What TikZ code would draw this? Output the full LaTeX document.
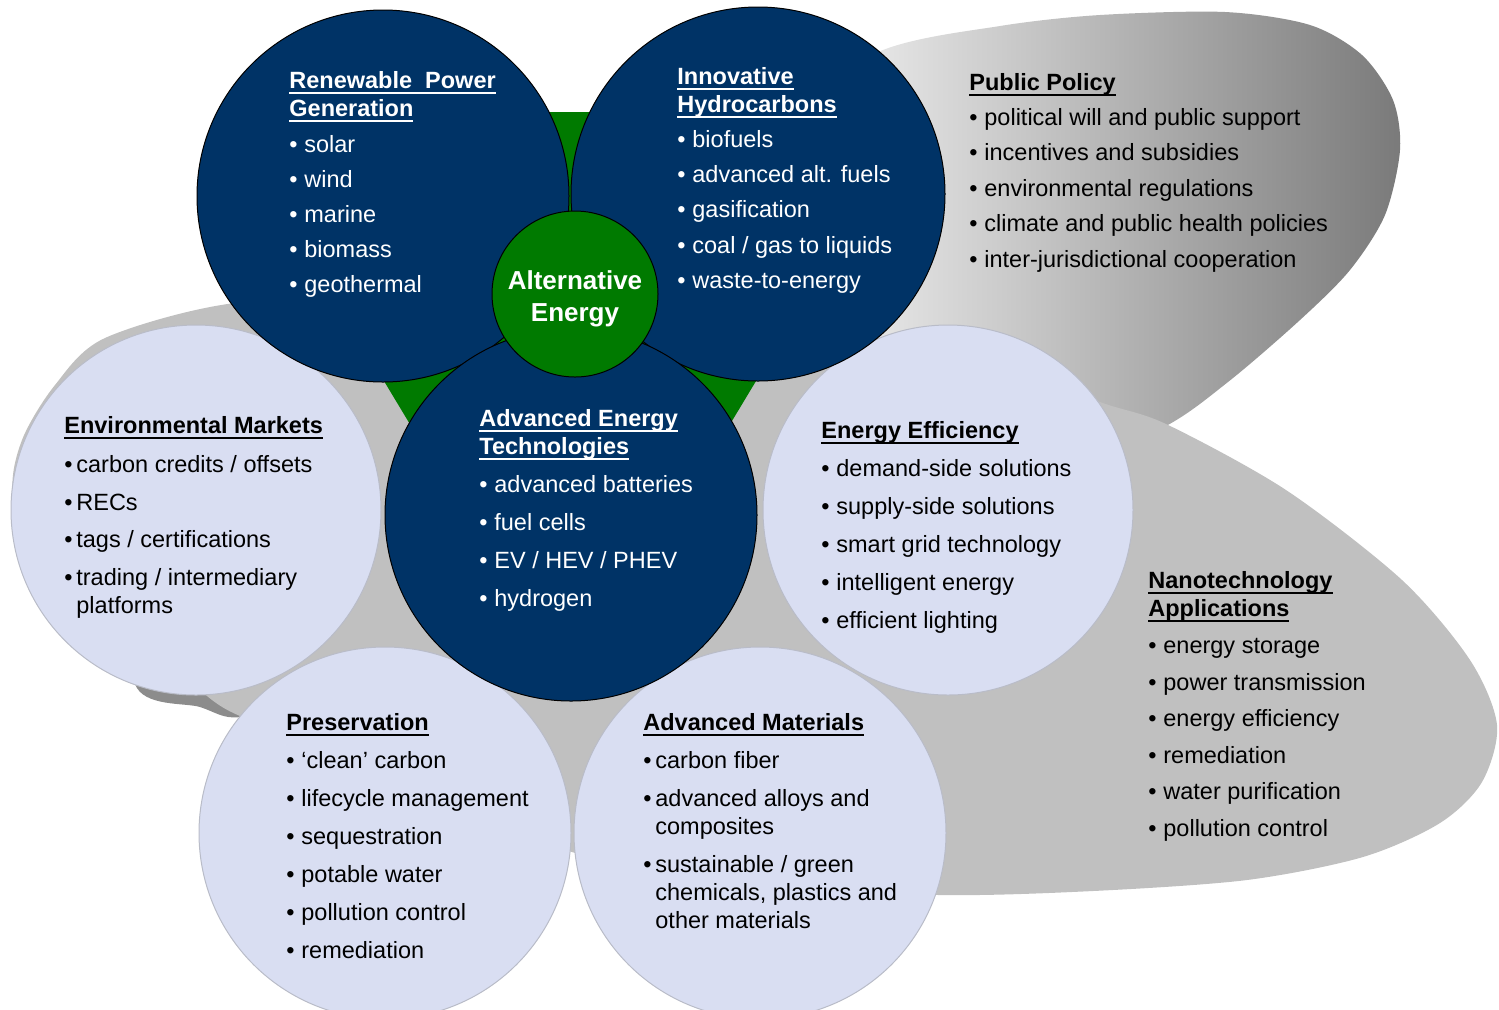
\documentclass[tikz,border=0pt]{standalone}
\usepackage{fontspec}
\setmainfont{Liberation Sans}

\definecolor{navy}{RGB}{0,51,102}
\definecolor{pale}{RGB}{217,222,242}
\definecolor{rim}{RGB}{185,188,200}
\definecolor{leaf}{RGB}{0,122,0}
\definecolor{greyA}{RGB}{192,192,192}
\definecolor{greyB}{RGB}{140,140,140}
\definecolor{greyC}{RGB}{122,122,122}

\newsavebox{\hdbox}
\newcommand{\bl}{\makebox[7.5pt][l]{\textbullet}}
\newcommand{\blt}{\makebox[6pt][l]{\textbullet}}
\newcommand{\indt}{\makebox[6pt]{}}
\newcommand{\hd}[1]{\rule{0pt}{10pt}\sbox{\hdbox}{\textbf{#1}}\usebox{\hdbox}\llap{\rule[-2.6pt]{\wd\hdbox}{0.9pt}}}

\begin{document}
\begin{tikzpicture}[x=0.5pt,y=-0.5pt,
        txt/.style={anchor=north west,align=left,inner sep=0pt,font=\fontsize{11.75}{14}\selectfont}]
        \useasboundingbox (0,0) rectangle (1499,1009);

        % Hintergrund
        \shade[left color=white,right color=greyC] plot[smooth cycle] coordinates {(760,120) (883,50) (1000,26) (1100,15) (1225,12) (1310,25) (1362,55) (1393,100) (1400,150) (1385,215) (1350,270) (1300,320) (1228,382) (1162,428) (1050,470) (900,420) (800,300)};
        \fill[greyB] plot[smooth cycle] coordinates {(135,684) (200,707) (240,717) (320,690) (300,520) (140,540)};
        \fill[greyA] plot[smooth cycle] coordinates {(22,440) (55,385) (105,338) (235,303) (420,300) (600,360) (770,378) (880,338) (1000,362) (1100,402) (1166,424) (1286,490) (1402,580) (1470,660) (1497,725) (1482,782) (1440,823) (1363,857) (1247,880) (1093,891) (939,895) (750,885) (572,852) (400,770) (240,716) (185,680) (100,640) (40,580) (13,495)};
        \fill[leaf] (222,112) -- (918,112) -- (570,690) -- cycle;

        % Kreise
        \begin{scope}[every node/.style={circle,line width=0.5pt,inner sep=0pt}]
            \node[draw=rim,fill=pale,minimum size=185pt] (EM) at (196,510) {};
            \node[draw=rim,fill=pale,minimum size=185pt] (EE) at (948,510) {};
            \node[draw=rim,fill=pale,minimum size=186pt] (PR) at (385,833) {};
            \node[draw=rim,fill=pale,minimum size=186pt] (AM) at (760,833) {};
            \node[draw=black,fill=navy,minimum size=186pt] (RPG) at (383,196) {};
            \node[draw=black,fill=navy,minimum size=187pt] (IH) at (758,194) {};
            \node[draw=black,fill=navy,minimum size=186pt] (AET) at (571,515) {};
            \node[draw=black,fill=leaf,minimum size=83pt] (AE) at (575,294) {};
        \end{scope}

        % Mitte
        \node[align=center,text=white,font=\fontsize{13}{16}\selectfont\bfseries] (AEtext) at (575,299) {Alternative\\Energy};

        % dunkle Kreise
        \node[txt,text=white] (RPGtext) at (289,68) {\hd{Renewable~~Power}\\\hd{Generation}\\[4pt]
            \bl solar\\[3.5pt] \bl wind\\[3.5pt] \bl marine\\[3.5pt] \bl biomass\\[3.5pt] \bl geothermal};
        \node[txt,text=white] (IHtext) at (677,64) {\hd{Innovative}\\\hd{Hydrocarbons}\\[3.5pt]
            \bl biofuels\\[3.6pt] \bl advanced alt. fuels\\[3.6pt] \bl gasification\\[3.6pt] \bl coal / gas to liquids\\[3.6pt] \bl waste-to-energy};
        \node[txt,text=white] (AETtext) at (479,406) {\hd{Advanced Energy}\\\hd{Technologies}\\[5pt]
            \bl advanced batteries\\[5pt] \bl fuel cells\\[5pt] \bl EV / HEV / PHEV\\[5pt] \bl hydrogen};

        % helle Kreise
        \node[txt] (EMtext) at (64,413) {\hd{Environmental Markets}\\[5.5pt]
            \blt carbon credits / offsets\\[4.85pt] \blt RECs\\[4.85pt] \blt tags / certifications\\[4.85pt] \blt trading / intermediary\\ \indt platforms};
        \node[txt] (EEtext) at (821,418) {\hd{Energy Efficiency}\\[5pt]
            \bl demand-side solutions\\[5pt] \bl supply-side solutions\\[5pt] \bl smart grid technology\\[5pt] \bl intelligent energy\\[5pt] \bl efficient lighting};
        \node[txt] (PRtext) at (286,710) {\hd{Preservation}\\[5pt]
            \bl `clean' carbon\\[5pt] \bl lifecycle management\\[5pt] \bl sequestration\\[5pt] \bl potable water\\[5pt] \bl pollution control\\[5pt] \bl remediation};
        \node[txt] (AMtext) at (643,710) {\hd{Advanced Materials}\\[5pt]
            \blt carbon fiber\\[5pt] \blt advanced alloys and\\ \indt composites\\[5pt] \blt sustainable / green\\ \indt chemicals, plastics and\\ \indt other materials};

        % graue Flaechen
        \node[txt] (PPtext) at (969,70) {\hd{Public Policy}\\[3.5pt]
            \bl political will and public support\\[3.75pt] \bl incentives and subsidies\\[3.75pt] \bl environmental regulations\\[3.75pt] \bl climate and public health policies\\[3.75pt] \bl inter-jurisdictional cooperation};
        \node[txt] (NAtext) at (1148,568) {\hd{Nanotechnology}\\\hd{Applications}\\[4.5pt]
            \bl energy storage\\[4.3pt] \bl power transmission\\[4.3pt] \bl energy efficiency\\[4.3pt] \bl remediation\\[4.3pt] \bl water purification\\[4.3pt] \bl pollution control};
    \end{tikzpicture}
\end{document}
